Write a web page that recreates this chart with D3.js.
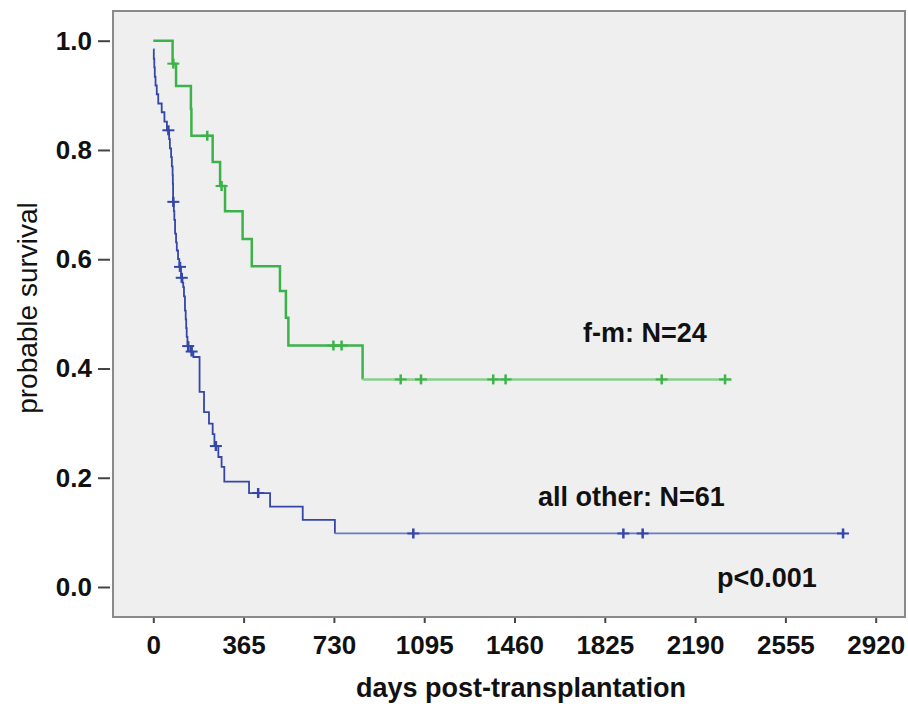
<!DOCTYPE html>
<html lang="en">
<head>
<meta charset="utf-8">
<title>Survival post-transplantation</title>
<script src="https://cdn.jsdelivr.net/npm/d3@7"></script>
<style>
  body { margin: 0; background: #fff; }
  svg { display: block; font-family: "Liberation Sans", Arial, sans-serif; }
</style>
</head>
<body>
<svg id="chart" width="908" height="711"></svg>
<script>
// f-m group, N=24 (green): step times and survival after each drop
var fmDays = [0, 78, 92, 152, 154, 240, 270, 290, 361, 398, 512, 536, 546, 846];
var fmSurv = [1.0, 0.958, 0.917, 0.875, 0.826, 0.778, 0.734, 0.688, 0.637, 0.587, 0.542, 0.493, 0.442, 0.380];
var fmEnd = 2338;
var fmCensored = [81, 218, 276, 728, 761, 1000, 1082, 1374, 1424, 2055, 2311];

// all other, N=61 (blue)
var otherDays = [0, 2, 4, 6, 9, 14, 20, 34, 45, 55, 64, 67, 72, 75, 78, 79, 80, 83, 85, 88, 92, 95, 100, 105,
                 112, 118, 121, 124, 128, 131, 133, 135, 138, 150, 162, 187, 205, 225, 240, 247, 263, 276, 287,
                 387, 472, 604, 734];
var otherSurv = [0.984, 0.967, 0.951, 0.934, 0.918, 0.902, 0.885, 0.869, 0.852, 0.836, 0.820, 0.803, 0.787, 0.770,
                 0.754, 0.738, 0.705, 0.688, 0.672, 0.647, 0.631, 0.616, 0.600, 0.586, 0.566, 0.557, 0.549, 0.532,
                 0.506, 0.490, 0.474, 0.458, 0.441, 0.431, 0.421, 0.357, 0.320, 0.299, 0.280, 0.258, 0.238, 0.220,
                 0.193, 0.172, 0.147, 0.123, 0.098];
var otherEnd = 2796;
var otherCensored = [61, 81, 108, 115, 141, 155, 253, 424, 1051, 1900, 1978, 2788];

var xTicks = [0, 365, 730, 1095, 1460, 1825, 2190, 2555, 2920];
var yTicks = [0, 0.2, 0.4, 0.6, 0.8, 1.0];

var svg = d3.select("#chart");

var x = d3.scaleLinear().domain([0, 2920]).range([153.3, 875.7]);
var y = d3.scaleLinear().domain([0, 1]).range([587, 40.7]);

// plot frame
svg.append("rect")
  .attr("x", 113).attr("y", 11)
  .attr("width", 792).attr("height", 606)
  .attr("fill", "#efefef")
  .attr("stroke", "#8a8a8a")
  .attr("stroke-width", 2);

// axes
var yAxis = svg.append("g")
  .attr("transform", "translate(110,0)")
  .call(d3.axisLeft(y).tickValues(yTicks).tickFormat(d3.format(".1f")).tickSize(12).tickPadding(6));

var xAxis = svg.append("g")
  .attr("transform", "translate(0,618)")
  .call(d3.axisBottom(x).tickValues(xTicks).tickFormat(d3.format("d")).tickSize(5).tickPadding(13));

[yAxis, xAxis].forEach(function(g) {
  g.select(".domain").remove();
  g.selectAll(".tick line").attr("stroke", "#444").attr("stroke-width", 2);
  g.selectAll(".tick text")
    .attr("fill", "#111")
    .style("font-size", "26px")
    .style("font-weight", "bold");
});

// step curves
var line = d3.line()
  .x(function(d) { return x(d[0]); })
  .y(function(d) { return y(d[1]); })
  .curve(d3.curveStepAfter);

function survAt(days, surv, t) {
  var s = surv[0];
  for (var i = 0; i < days.length; i++) {
    if (days[i] <= t) s = surv[i];
  }
  return s;
}

function drawCurve(days, surv, end, censored, color, tailColor, width) {
  var pts = days.map(function(d, i) { return [d, surv[i]]; });
  var last = pts[pts.length - 1];

  svg.append("path")
    .datum(pts)
    .attr("d", line)
    .attr("fill", "none")
    .attr("stroke", color)
    .attr("stroke-width", width);

  // long flat tail after the last event
  svg.append("line")
    .attr("x1", x(last[0])).attr("x2", x(end))
    .attr("y1", y(last[1])).attr("y2", y(last[1]))
    .attr("stroke", tailColor)
    .attr("stroke-width", width);

  var marks = svg.append("g").selectAll("g")
    .data(censored)
    .enter().append("g")
    .attr("transform", function(d) {
      return "translate(" + x(d) + "," + y(survAt(days, surv, d)) + ")";
    });
  marks.append("line")
    .attr("x1", 0).attr("x2", 0).attr("y1", -5).attr("y2", 5)
    .attr("stroke", color).attr("stroke-width", 2.5);
  marks.append("line")
    .attr("x1", -6).attr("x2", 6).attr("y1", 0).attr("y2", 0)
    .attr("stroke", color).attr("stroke-width", 2);
}

drawCurve(fmDays, fmSurv, fmEnd, fmCensored, "#3cb34a", "#86d18c", 2.5);
drawCurve(otherDays, otherSurv, otherEnd, otherCensored, "#3446a8", "#6a7aca", 1.8);

// annotations
var notes = [
  {text: "f-m: N=24", x: 583, y: 342},
  {text: "all other: N=61", x: 538, y: 506},
  {text: "p<0.001", x: 717, y: 587}
];
svg.selectAll("text.note")
  .data(notes)
  .enter().append("text")
  .attr("class", "note")
  .attr("x", function(d) { return d.x; })
  .attr("y", function(d) { return d.y; })
  .attr("fill", "#111")
  .style("font-size", "27px")
  .style("font-weight", "bold")
  .text(function(d) { return d.text; });

// axis titles
svg.append("text")
  .attr("x", 521).attr("y", 697)
  .attr("text-anchor", "middle")
  .attr("fill", "#111")
  .style("font-size", "27px")
  .style("font-weight", "bold")
  .text("days post-transplantation");

svg.append("text")
  .attr("transform", "rotate(-90)")
  .attr("x", -308).attr("y", 37)
  .attr("text-anchor", "middle")
  .attr("fill", "#111")
  .style("font-size", "28px")
  .text("probable survival");
</script>
</body>
</html>
